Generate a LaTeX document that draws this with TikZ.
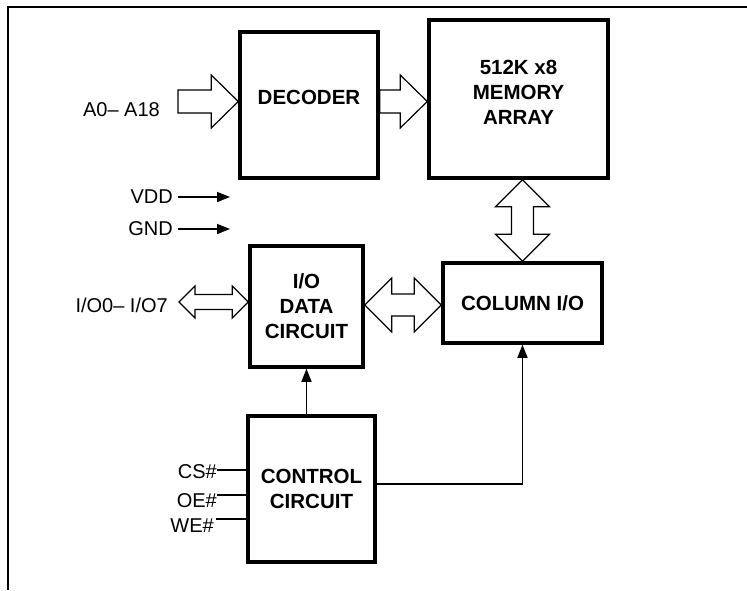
\documentclass[tikz,border=0pt]{standalone}
\usepackage{fontspec}
\setmainfont{Liberation Sans}
\usetikzlibrary{arrows.meta,calc,positioning}

\begin{document}
\begin{tikzpicture}[x=1pt, y=-1pt,
    block/.style={draw, line width=3.5pt, inner sep=0pt, font=\fontsize{20.5}{25}\selectfont\bfseries},
    pin label/.style={inner sep=0pt, font=\fontsize{20}{25}\selectfont},
    wire/.style={line width=1.5pt},
    pointy/.style={-{Triangle[length=13pt,width=10pt]}},
    bus/.style={draw, line width=1.2pt, fill=white, line join=miter},
    bus in/.style n args={3}{to path={
        coordinate (hb) at ($(\tikztotarget)!#3!(\tikztostart)$)
        ($(\tikztostart)!#1!90:(\tikztotarget)$) -- ($(hb)!#1!-90:(\tikztostart)$)
        -- ($(hb)!#2!-90:(\tikztostart)$) -- (\tikztotarget)
        -- ($(hb)!#2!90:(\tikztostart)$) -- ($(hb)!#1!90:(\tikztostart)$)
        -- ($(\tikztostart)!#1!-90:(\tikztotarget)$) -- cycle}},
    bus both/.style n args={3}{to path={
        coordinate (ha) at ($(\tikztostart)!#3!(\tikztotarget)$)
        coordinate (hb) at ($(\tikztotarget)!#3!(\tikztostart)$)
        (\tikztostart) -- ($(ha)!#2!90:(\tikztotarget)$) -- ($(ha)!#1!90:(\tikztotarget)$)
        -- ($(hb)!#1!-90:(\tikztostart)$) -- ($(hb)!#2!-90:(\tikztostart)$) -- (\tikztotarget)
        -- ($(hb)!#2!90:(\tikztostart)$) -- ($(hb)!#1!90:(\tikztostart)$)
        -- ($(ha)!#1!-90:(\tikztotarget)$) -- ($(ha)!#2!-90:(\tikztotarget)$) -- cycle}}]
  \useasboundingbox (0,0) rectangle (747,590);
  \draw[line width=2pt] (747,7) -- (7.5,7) -- (7.5,590);

  \node[block, minimum width=138pt, minimum height=146pt] (dec) at (309,105) {\raisebox{8pt}[\height][\depth]{DECODER}};
  \node[block, minimum width=179pt, minimum height=158pt] (mem) at (518.5,99)
    {\raisebox{4.5pt}[\height][\depth]{\begin{tabular}{@{}c@{}}512K x8\\MEMORY\\ARRAY\end{tabular}}};
  \node[block, align=center, minimum width=113pt, minimum height=121pt] (io) at (306.5,306.5) {I/O\\DATA\\CIRCUIT};
  \node[block, minimum width=159pt, minimum height=80pt] (col) at (522.5,303) {COLUMN I/O};
  \node[block, align=center, minimum width=127pt, minimum height=146pt] (ctl) at (311.5,489) {CONTROL\\CIRCUIT};

  \node[pin label, anchor=east] (a0) at (160,110) {A0– A18};
  \node[pin label, anchor=east] (vdd) at (173,197) {VDD};
  \node[pin label, anchor=east] (gnd) at (173,229) {GND};
  \node[pin label, anchor=east] (iopins) at (168,305) {I/O0– I/O7};
  \node[pin label, anchor=east] (cs) at (217,472) {CS\#};
  \node[pin label, anchor=east] (oe) at (217,501) {OE\#};
  \node[pin label, anchor=east] (we) at (214,526) {WE\#};

  \coordinate (a0tail) at (178,101.5);
  \coordinate (iotail) at (179,302);
  \coordinate[right=57pt of vdd] (vddend);
  \coordinate[right=57pt of gnd] (gndend);
  \coordinate[above=1.5pt of io.east] (iobus);
  \coordinate[above=2pt of cs.east] (csin);
  \coordinate[above=6pt of oe.east] (oein);
  \coordinate[above right=7pt and 2pt of we.east] (wein);
  \coordinate[above=5pt of ctl.east] (ctlout);

  \path[bus] (a0tail) to[bus in={11.5pt}{26.5pt}{27pt}] (a0tail -| dec.west);
  \path[bus] (dec.east |- a0tail) to[bus in={11.5pt}{26.5pt}{27pt}] (mem.west |- a0tail);
  \path[bus] (col.north |- mem.south) to[bus both={11pt}{27pt}{27pt}] (col.north);
  \path[bus] (iotail) to[bus both={7.5pt}{16pt}{16pt}] (iotail -| io.west);
  \path[bus] (iobus) to[bus both={11pt}{27pt}{27pt}] (iobus -| col.west);

  \draw[wire, pointy] ([xshift=5pt]vdd.east) -- (vddend);
  \draw[wire, pointy] ([xshift=5pt]gnd.east) -- (gndend);
  \draw[wire] (csin) -- (csin -| ctl.west);
  \draw[wire] (oein) -- (oein -| ctl.west);
  \draw[wire] (wein) -- (wein -| ctl.west);
  \draw[wire, pointy] (ctl.north -| io.south) -- (io.south);
  \draw[wire, pointy] (ctlout) -| (col.south);
\end{tikzpicture}
\end{document}
